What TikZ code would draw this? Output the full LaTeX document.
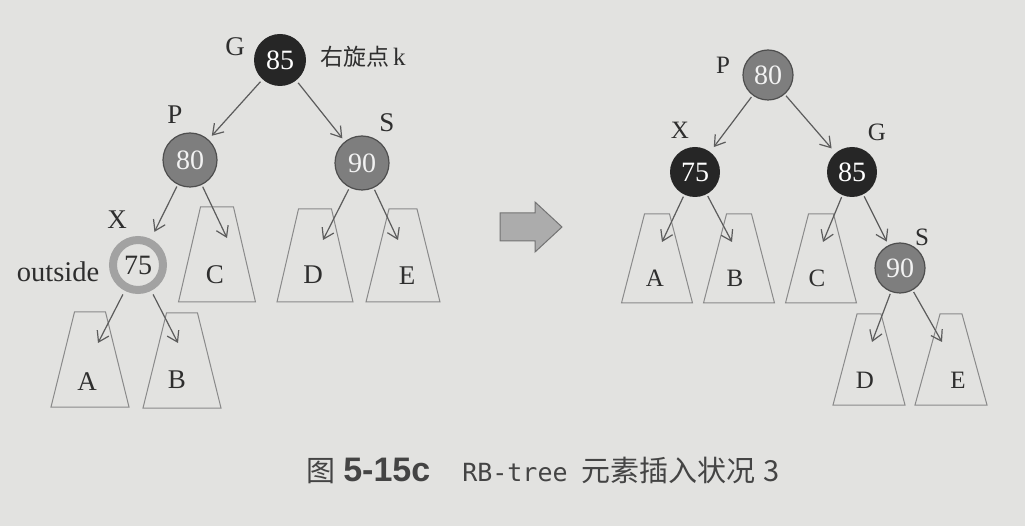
\documentclass[tikz,border=0pt]{standalone}
\usepackage{fontspec}
\setmainfont{Liberation Serif}
\newfontfamily\cjk{Noto Sans CJK SC}
\newfontfamily\capsans{Liberation Sans}
\newfontfamily\capmono{DejaVu Sans Mono}
\usetikzlibrary{arrows.meta}
\definecolor{pagebg}{HTML}{E2E2E0}
\definecolor{nodeblack}{HTML}{262626}
\definecolor{nodegrey}{HTML}{7E7E7E}
\definecolor{nodegreyedge}{HTML}{4E4E4E}
\definecolor{ringgrey}{HTML}{A2A2A2}
\definecolor{linkgray}{HTML}{5C5C5C}
\definecolor{trapgray}{HTML}{8A8A8A}
\definecolor{inkgray}{HTML}{2E2E2E}
\definecolor{capgray}{HTML}{444444}
\newcommand\trapz[5]{% cx, top y, top half, bottom half, height
  \draw[trapline] (#1-#3,#2) -- (#1+#3,#2) -- (#1+#4,#2+#5) -- (#1-#4,#2+#5) -- cycle;}
\begin{document}
\begin{tikzpicture}[x=1pt,y=-1pt,
  link/.style={draw=linkgray, line width=1.2pt,
    -{Straight Barb[length=10pt,width=13pt,line width=1.2pt]}},
  trapline/.style={draw=trapgray, line width=1pt},
  bignum/.style={font=\fontsize{28}{28}\selectfont},
  blacknode/.style={circle, fill=nodeblack, inner sep=0pt, text=white, bignum},
  greynode/.style={circle, fill=nodegrey, draw=nodegreyedge, line width=1.2pt,
    inner sep=0pt, text=white!90!gray, bignum},
  ringnode/.style={circle, fill=pagebg, draw=ringgrey, line width=8pt,
    inner sep=0pt, text=inkgray, bignum},
  lab/.style={text=inkgray, font=\fontsize{27}{27}\selectfont, inner sep=0pt},
  labr/.style={text=inkgray, font=\fontsize{25}{25}\selectfont, inner sep=0pt},
]
\fill[pagebg] (0,0) rectangle (1025,526);
\useasboundingbox (0,0) rectangle (1025,526);

% ---------------- left tree ----------------
\node[blacknode, minimum size=52pt] (lG) at (280,60) {85};
\node[greynode, minimum size=54pt] (lP) at (190,160) {80};
\node[greynode, minimum size=54pt] (lS) at (362,163) {90};
\node[ringnode, minimum size=50pt] (lX) at (138,265) {75};

\node[lab] (lGl) at (235,47) {G};
\node[lab] (lPl) at (175,115) {P};
\node[lab] (lSl) at (387,123) {S};
\node[lab] (lXl) at (117,220) {X};
\node[lab, font=\fontsize{28.5}{28}\selectfont] (lout) at (58,272) {outside};
\node[text=inkgray, inner sep=0pt] (lrot) at (363,57)
  {\cjk\fontsize{23}{23}\selectfont 右旋点\,\rmfamily\fontsize{25}{25}\selectfont k};

\trapz{90}{312}{15.5}{39}{95}
\trapz{182}{313}{15.5}{39}{95}
\trapz{217}{207}{16.5}{38.5}{95}
\trapz{315}{209}{16.5}{38}{93}
\trapz{403}{209}{14}{37}{93}

\node[lab] (lA) at (87,382) {A};
\node[lab] (lB) at (177,380) {B};
\node[lab] (lC) at (215,275) {C};
\node[lab] (lD) at (313,275) {D};
\node[lab] (lE) at (407,276) {E};

\coordinate (ltA) at (98,343);
\coordinate (ltB) at (178,343);
\coordinate (ltC) at (227,238);
\coordinate (ltD) at (323,240);
\coordinate (ltE) at (398,240);

\draw[link, shorten <=3pt, shorten >=5pt] (lG) -- (lP);
\draw[link, shorten <=3pt, shorten >=4pt] (lG) -- (lS);
\draw[link, shorten <=2pt, shorten >=8pt] (lP) -- (lX);
\draw[link, shorten <=2pt] (lP) -- (ltC);
\draw[link, shorten <=2pt] (lS) -- (ltD);
\draw[link, shorten <=2pt] (lS) -- (ltE);
\draw[link, shorten <=4pt] (lX) -- (ltA);
\draw[link, shorten <=4pt] (lX) -- (ltB);

% ---------------- big arrow ----------------
\filldraw[fill=gray!65, draw=gray!90!black, line width=1pt]
  (500,213) -- (535,213) -- (535,202) -- (562,227) -- (535,252) -- (535,241) -- (500,241) -- cycle;

% ---------------- right tree ----------------
\node[greynode, minimum size=50pt] (rP) at (768,75) {80};
\node[blacknode, minimum size=50pt] (rX) at (695,172) {75};
\node[blacknode, minimum size=50pt] (rG) at (852,172) {85};
\node[greynode, minimum size=50pt] (rS) at (900,268) {90};

\node[labr] (rPl) at (723,65) {P};
\node[labr] (rXl) at (680,130) {X};
\node[labr] (rGl) at (877,132) {G};
\node[labr] (rSl) at (922,237) {S};

\trapz{657}{214}{12.5}{35.5}{89}
\trapz{739}{214}{12.5}{35.5}{89}
\trapz{821}{214}{12.5}{35.5}{89}
\trapz{869}{314}{12}{36}{91}
\trapz{951}{314}{11}{36}{91}

\node[labr] (rA) at (655,278) {A};
\node[labr] (rB) at (735,278) {B};
\node[labr] (rC) at (817,278) {C};
\node[labr] (rD) at (865,380) {D};
\node[labr] (rE) at (958,380) {E};

\coordinate (rtA) at (662,242);
\coordinate (rtB) at (732,242);
\coordinate (rtC) at (823,242);
\coordinate (rtD) at (872,342);
\coordinate (rtE) at (942,342);

\draw[link, shorten <=2pt, shorten >=6pt] (rP) -- (rX);
\draw[link, shorten <=2pt, shorten >=6pt] (rP) -- (rG);
\draw[link, shorten <=2pt] (rX) -- (rtA);
\draw[link, shorten <=2pt] (rX) -- (rtB);
\draw[link, shorten <=2pt] (rG) -- (rtC);
\draw[link, shorten <=2pt, shorten >=4pt] (rG) -- (rS);
\draw[link, shorten <=2pt] (rS) -- (rtD);
\draw[link, shorten <=2pt] (rS) -- (rtE);

% ---------------- caption ----------------
\node[text=capgray, inner sep=0pt] (cap) at (543,470)
  {\cjk\fontsize{29}{29}\selectfont 图\hspace{8pt}{\capsans\bfseries\fontsize{34}{34}\selectfont 5-15c}\hspace{32pt}{\capmono\fontsize{25}{25}\selectfont RB-tree}\hspace{14pt}元素插入状况\hspace{8pt}3};
\end{tikzpicture}
\end{document}
